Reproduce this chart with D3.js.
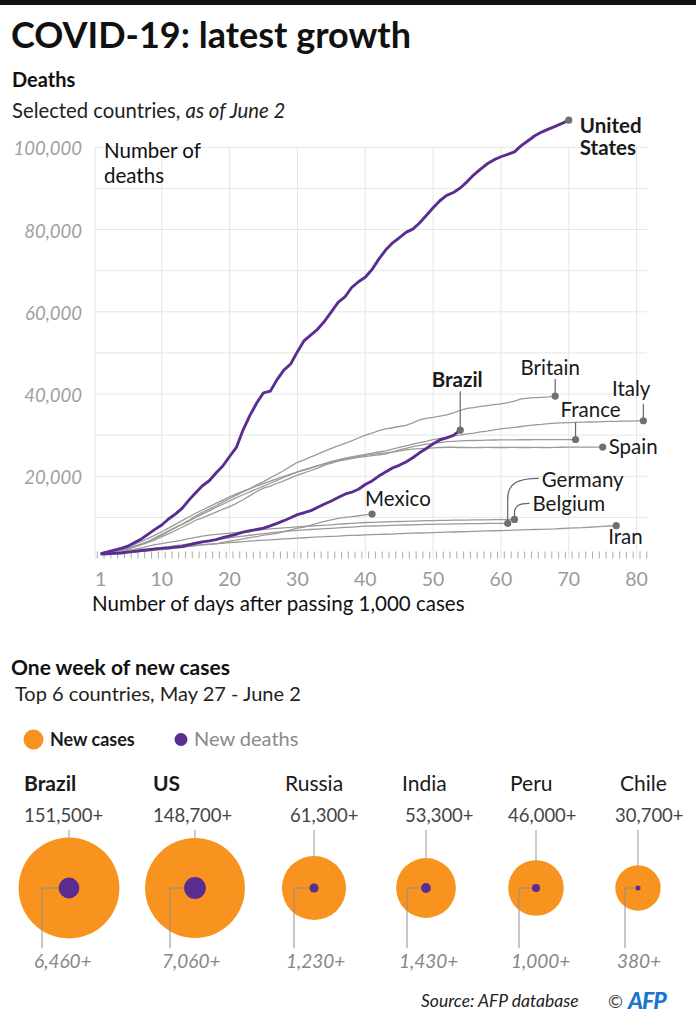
<!DOCTYPE html>
<html>
<head>
<meta charset="utf-8">
<script src="https://cdn.jsdelivr.net/npm/d3@7"></script>
<style>
  body { margin: 0; background: #fff; }
  svg { display: block; font-family: Lato, "Open Sans", sans-serif; }
</style>
</head>
<body>
<div id="chart"></div>
<script>
// deaths per day since passing 1,000 (index 0 = day 1)
const usDeaths = [1200,1580,2030,2470,2980,3870,4760,5930,7090,8150,9600,10800,12200,14200,16000,17700,18900,20800,22500,24800,
  27000,31300,34800,37800,40300,40700,43500,45800,47300,50300,53000,54400,55800,57700,60000,62300,63600,65900,67300,68400,
  70300,72800,75000,76700,78000,79300,80100,81600,83400,85300,87000,88300,89000,90100,91600,93300,94700,96000,97000,97700,
  98300,98900,100400,101600,102800,103700,104400,105100,105800,106600];
const brazilDeaths = [1060,1150,1240,1330,1540,1740,1950,2140,2350,2460,2590,2760,2910,3310,3700,4050,4290,4600,5080,5510,
  5900,6410,6750,7050,7370,7920,8540,9190,9900,10660,11130,11650,12460,13240,13990,14820,15630,16120,16850,17980,
  18860,20050,21050,22010,22670,23470,24510,25700,26760,27880,28830,29310,29940,31200];
const britainDeaths = [1000,1250,1550,1950,2400,2950,3500,4100,4900,5700,6600,7500,8400,9300,10300,11200,12000,12800,13700,14600,
  15400,16200,17000,17900,18700,19600,20500,21400,22400,23400,24000,24700,25400,26100,26800,27400,28000,28600,29300,30000,
  30500,31100,31500,31800,32100,32400,33000,33700,34100,34300,34600,34900,35400,36000,36500,36700,37000,37200,37400,37600,
  37900,38300,38800,39000,39100,39200,39300,39500];
const italyDeaths = [1000,1300,1650,2050,2500,3000,3550,4200,5000,5900,6700,7500,8300,9100,10000,10800,11600,12400,13200,14000,
  14800,15500,16200,16900,17600,18300,19000,19700,20400,21100,21600,22100,22600,23100,23600,24000,24400,24700,25000,25300,
  25600,25900,26200,26600,27000,27400,27800,28200,28500,28900,29200,29500,29800,30000,30300,30500,30800,31000,31300,31500,
  31700,31900,32100,32300,32500,32600,32800,32900,33000,33050,33100,33150,33200,33250,33300,33330,33360,33400,33430,33470,33500];
const franceDeaths = [1000,1200,1500,1900,2300,2800,3300,3900,4500,5300,6000,6800,7600,8400,9300,9900,10600,11300,12000,12600,
  13400,14300,15300,16300,17100,17600,18300,18900,19600,20300,20800,21400,22000,22700,23200,23700,24000,24300,24600,24800,
  25000,25200,25400,25900,26400,26800,27200,27500,27800,28000,28200,28400,28500,28600,28650,28700,28750,28800,28820,28840,
  28860,28870,28880,28880,28890,28900,28900,28910,28920,28930,28940];
const spainDeaths = [1000,1350,1750,2250,2800,3450,4150,4900,5700,6500,7400,8300,9200,10100,11000,11800,12600,13400,14200,15000,
  15700,16400,17000,17600,18200,18800,19400,20000,20500,21000,21500,22000,22500,23000,23400,23800,24200,24500,24800,25100,
  25300,25500,25700,25900,26100,26400,26600,26700,26800,26900,27000,27050,27050,27000,27000,26980,27000,27010,27000,26990,
  27000,27020,27000,27000,27010,27000,26980,27020,27050,27080,27100,27100,27100,27100,27100];
const germanyDeaths = [1000,1150,1300,1450,1600,1800,2000,2200,2400,2700,2900,3100,3300,3550,3800,4050,4300,4550,4800,5050,
  5250,5450,5650,5850,6050,6250,6400,6550,6700,6850,6950,7050,7150,7250,7350,7450,7550,7650,7750,7850,
  7900,7950,8000,8050,8100,8150,8200,8240,8280,8320,8350,8380,8410,8440,8460,8480,8500,8520,8530,8545,8560];
const belgiumDeaths = [1000,1300,1450,1650,2000,2250,2550,3000,3350,3600,3900,4150,4450,4850,5150,5450,5700,5850,6000,6150,
  6300,6500,6700,6900,7050,7200,7350,7450,7550,7700,7800,7900,8000,8100,8200,8350,8450,8550,8650,8750,
  8800,8850,8900,8950,9000,9050,9100,9150,9200,9230,9260,9290,9310,9330,9350,9370,9390,9410,9430,9450,9470,9500];
const iranDeaths = [1000,1150,1300,1450,1550,1700,1850,2000,2200,2400,2550,2700,2850,3000,3150,3300,3450,3600,3700,3850,
  3950,4100,4250,4350,4450,4550,4650,4750,4850,4950,5050,5150,5250,5300,5400,5450,5550,5600,5650,5750,
  5800,5850,5900,5950,6050,6100,6150,6200,6250,6300,6350,6400,6450,6500,6550,6600,6650,6700,6750,6800,
  6850,6900,6950,7000,7050,7100,7150,7200,7300,7400,7450,7500,7600,7700,7800,7900,7980];
const mexicoDeaths = [1000,1070,1220,1350,1430,1570,1730,1860,1970,2150,2270,2510,2700,2960,3160,3350,3470,3570,3930,4220,
  4480,4770,5050,5330,5670,5860,6090,6510,6990,7390,7630,8130,8600,9050,9420,9780,10000,10170,10400,10630,10800];

const yTicks = [20000, 40000, 60000, 80000, 100000];
const yGrid = [10000, 20000, 30000, 40000, 50000, 60000, 70000, 80000, 90000, 100000];
const xTicks = [1, 10, 20, 30, 40, 50, 60, 70, 80];

// one week of new cases
const weekCountries = ["Brazil", "US", "Russia", "India", "Peru", "Chile"];
const weekCases = [151500, 148700, 61300, 53300, 46000, 30700];
const weekDeaths = [6460, 7060, 1230, 1430, 1000, 380];
const caseLabels = ["151,500+", "148,700+", "61,300+", "53,300+", "46,000+", "30,700+"];
const deathLabels = ["6,460+", "7,060+", "1,230+", "1,430+", "1,000+", "380+"];

const purple = "#5c2d91", orange = "#f7931e", grey = "#9a9a9a";

const svg = d3.select("#chart").append("svg")
  .attr("width", 696).attr("height", 1024);

svg.append("rect").attr("x", 0).attr("y", 0).attr("width", 696).attr("height", 5).attr("fill", "#111");

svg.append("text").attr("x", 11).attr("y", 48)
  .attr("font-size", 36).attr("font-weight", "bold").attr("fill", "#111")
  .text("COVID-19: latest growth");
svg.append("text").attr("x", 12).attr("y", 87)
  .attr("font-size", 20).attr("font-weight", "bold").attr("fill", "#111")
  .text("Deaths");
const sub = svg.append("text").attr("x", 12).attr("y", 118).attr("font-size", 20.3).attr("fill", "#222");
sub.append("tspan").text("Selected countries, ");
sub.append("tspan").attr("font-style", "italic").text("as of June 2");

// scales
const x = d3.scaleLinear().domain([1, 80]).range([100.7, 636.6]);
const y = d3.scaleLinear().domain([0, 100000]).range([558.5, 147.3]);
const gridLeft = 95, gridRight = x(81.5);

// grid
const grid = svg.append("g").attr("stroke", "#e6e6e6").attr("stroke-width", 1);
grid.selectAll(".h").data(yGrid).join("line")
  .attr("x1", gridLeft).attr("x2", gridRight)
  .attr("y1", d => y(d)).attr("y2", d => y(d));
grid.selectAll(".v").data(xTicks.slice(1)).join("line")
  .attr("x1", d => x(d)).attr("x2", d => x(d))
  .attr("y1", y(100000)).attr("y2", y(0));
grid.append("line").attr("x1", gridLeft).attr("x2", gridLeft).attr("y1", y(100000)).attr("y2", y(0));

// y labels
svg.append("g").selectAll("text").data(yTicks).join("text")
  .attr("x", 82).attr("y", d => y(d) + 8)
  .attr("text-anchor", "end").attr("font-size", 18.5).attr("font-style", "italic").attr("fill", "#a0a0a0")
  .text(d3.format(","));

// day ticks along the bottom
svg.append("g").selectAll("line").data(d3.range(0, 82)).join("line")
  .attr("x1", d => x(d + 0.5)).attr("x2", d => x(d + 0.5))
  .attr("y1", y(0) - 7).attr("y2", y(0))
  .attr("stroke", "#aaa").attr("stroke-width", 1);

svg.append("g").selectAll("text").data(xTicks).join("text")
  .attr("x", d => x(d)).attr("y", 586)
  .attr("text-anchor", "middle").attr("font-size", 19.5).attr("fill", "#9a9a9a")
  .text(d => d);

svg.append("text").attr("x", 92).attr("y", 611).attr("font-size", 20.5).attr("fill", "#111")
  .text("Number of days after passing 1,000 cases");

const yl = svg.append("text").attr("font-size", 20.5).attr("fill", "#111");
yl.append("tspan").attr("x", 104).attr("y", 158).text("Number of");
yl.append("tspan").attr("x", 104).attr("y", 183).text("deaths");

// lines
const line = d3.line().x((d, i) => x(i + 1)).y(d => y(d));
const greySeries = [britainDeaths, italyDeaths, franceDeaths, spainDeaths, germanyDeaths, belgiumDeaths, iranDeaths, mexicoDeaths];
svg.append("g").selectAll("path").data(greySeries).join("path")
  .attr("fill", "none").attr("stroke", grey).attr("stroke-width", 1.3)
  .attr("d", line);
svg.append("g").selectAll("path").data([brazilDeaths, usDeaths]).join("path")
  .attr("fill", "none").attr("stroke", purple).attr("stroke-width", 2.9)
  .attr("stroke-linejoin", "round")
  .attr("d", line);

// end labels
const ends = [
  {s: usDeaths, name: ["United", "States"], bold: true, dx: 11, dy: 13},
  {s: brazilDeaths, name: ["Brazil"], bold: true, anchor: "middle", dx: -3, dy: -43, lead: -39},
  {s: britainDeaths, name: ["Britain"], anchor: "middle", dx: -5, dy: -21, lead: -17},
  {s: italyDeaths, name: ["Italy"], anchor: "end", dx: 7, dy: -25, lead: -17},
  {s: franceDeaths, name: ["France"], dx: -15, dy: -22, lead: -17},
  {s: spainDeaths, name: ["Spain"], dx: 6, dy: 6.5},
  {s: germanyDeaths, name: ["Germany"], dx: 34, dy: -36},
  {s: belgiumDeaths, name: ["Belgium"], dx: 18, dy: -8.5},
  {s: mexicoDeaths, name: ["Mexico"], dx: -7, dy: -8},
  {s: iranDeaths, name: ["Iran"], dx: -8, dy: 18}
];
ends.forEach(e => {
  const ex = x(e.s.length), ey = y(e.s[e.s.length - 1]);
  e.ex = ex; e.ey = ey;
  if (e.lead) {
    svg.append("line").attr("x1", ex).attr("x2", ex).attr("y1", ey).attr("y2", ey + e.lead)
      .attr("stroke", "#666").attr("stroke-width", 1.2);
  }
});
// curved leaders for Germany and Belgium
const ge = ends[6], be = ends[7];
svg.append("path").attr("fill", "none").attr("stroke", "#666").attr("stroke-width", 1.2)
  .attr("d", `M${ge.ex},${ge.ey} V${ge.ey - 24} C${ge.ex},${ge.ey - 40} ${ge.ex + 10},${ge.ey - 45} ${ge.ex + 31},${ge.ey - 45}`);
svg.append("path").attr("fill", "none").attr("stroke", "#666").attr("stroke-width", 1.2)
  .attr("d", `M${be.ex},${be.ey} V${be.ey - 7} C${be.ex},${be.ey - 13} ${be.ex + 4},${be.ey - 16} ${be.ex + 15},${be.ey - 16}`);

ends.forEach(e => {
  svg.append("circle").attr("cx", e.ex).attr("cy", e.ey).attr("r", 3.6).attr("fill", "#707070");
  const t = svg.append("text").attr("font-size", 20.5).attr("fill", "#1a1a1a")
    .attr("font-weight", e.bold ? "bold" : null)
    .attr("text-anchor", e.anchor || "start");
  e.name.forEach((n, i) => {
    t.append("tspan").attr("x", e.ex + e.dx).attr("y", e.ey + e.dy + i * 22).text(n);
  });
});

// ---- one week of new cases ----
svg.append("text").attr("x", 11).attr("y", 675)
  .attr("font-size", 21).attr("font-weight", "bold").attr("fill", "#111")
  .text("One week of new cases");
svg.append("text").attr("x", 15).attr("y", 701).attr("font-size", 20).attr("fill", "#222")
  .text("Top 6 countries, May 27 - June 2");

svg.append("circle").attr("cx", 33.5).attr("cy", 739.5).attr("r", 10).attr("fill", orange);
svg.append("text").attr("x", 50).attr("y", 745.5).attr("font-size", 18).attr("font-weight", "bold").attr("fill", "#1a1a1a")
  .text("New cases");
svg.append("circle").attr("cx", 181).attr("cy", 739.5).attr("r", 6.5).attr("fill", purple);
svg.append("text").attr("x", 194).attr("y", 746).attr("font-size", 20).attr("fill", "#8a8a8a")
  .text("New deaths");

const r = d3.scaleSqrt().domain([0, d3.max(weekCases)]).range([0, 50.4]);
const colX = d3.scaleOrdinal().domain(weekCountries).range([69, 195, 314, 426, 536, 638]);
const nameX = d3.scaleOrdinal().domain(weekCountries).range([24, 153, 285, 402, 510, 620]);
const caseX = d3.scaleOrdinal().domain(weekCountries).range([24, 153, 290, 405, 508, 615]);
const elbowX = d3.scaleOrdinal().domain(weekCountries).range([42, 170, 294, 407, 519, 625]);
const cy = 888;

const week = weekCountries.map((c, i) => ({c, cases: weekCases[i], deaths: weekDeaths[i], cl: caseLabels[i], dl: deathLabels[i]}));

const cols = svg.append("g").selectAll("g").data(week).join("g");
cols.append("text").attr("x", d => nameX(d.c)).attr("y", 791)
  .attr("font-size", 21).attr("fill", "#1a1a1a")
  .attr("font-weight", (d, i) => i < 2 ? "bold" : null)
  .text(d => d.c);
cols.append("text").attr("x", d => caseX(d.c)).attr("y", 822)
  .attr("font-size", 18.5).attr("fill", "#444")
  .text(d => d.cl);
cols.append("line")
  .attr("x1", d => colX(d.c)).attr("x2", d => colX(d.c))
  .attr("y1", 830).attr("y2", d => cy - r(d.cases) + 4)
  .attr("stroke", "#999").attr("stroke-width", 1);
cols.append("circle").attr("cx", d => colX(d.c)).attr("cy", cy)
  .attr("r", d => r(d.cases)).attr("fill", orange);
cols.append("path").attr("fill", "none").attr("stroke", "#8f8f8f").attr("stroke-width", 1)
  .attr("d", d => `M${colX(d.c) - r(d.deaths)},${cy} H${elbowX(d.c)} V948`);
cols.append("circle").attr("cx", d => colX(d.c)).attr("cy", cy)
  .attr("r", d => r(d.deaths)).attr("fill", purple);
cols.append("text").attr("x", d => elbowX(d.c) - 8).attr("y", 968)
  .attr("font-size", 19).attr("font-style", "italic").attr("fill", "#888")
  .text(d => d.dl);

svg.append("text").attr("x", 421).attr("y", 1007)
  .attr("font-size", 17.5).attr("font-style", "italic").attr("fill", "#222")
  .text("Source: AFP database");
svg.append("text").attr("x", 608).attr("y", 1008)
  .attr("font-size", 18).attr("fill", "#444").text("©");
svg.append("text").attr("x", 628).attr("y", 1009)
  .attr("font-size", 23).attr("font-weight", "900").attr("font-style", "italic").attr("fill", "#1b75cf")
  .attr("letter-spacing", -1).text("AFP");
</script>
</body>
</html>
